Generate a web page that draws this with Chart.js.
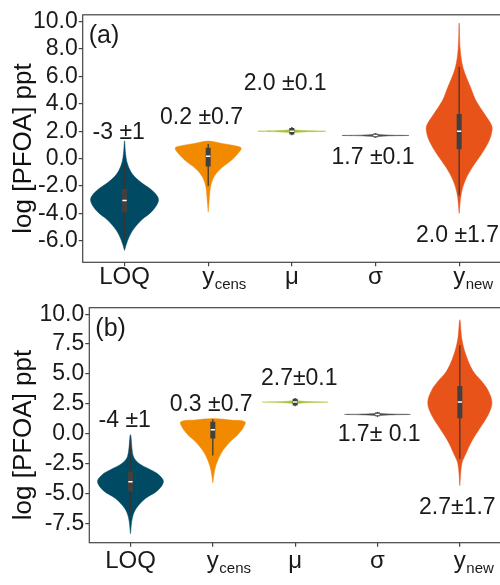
<!DOCTYPE html>
<html>
<head>
<meta charset="utf-8">
<script src="https://cdn.jsdelivr.net/npm/chart.js@4.4.1/dist/chart.umd.min.js"></script>
<style>
  html, body { margin: 0; padding: 0; overflow: hidden; background: #fff; }
  #wrapA { position: absolute; left: 0; top: 0; }
  #wrapB { position: absolute; left: 0; top: 290px; }
</style>
</head>
<body>
<div id="wrapA"><canvas id="chartA" width="501" height="290"></canvas></div>
<div id="wrapB"><canvas id="chartB" width="501" height="295"></canvas></div>
<script>
const FONT = '"Liberation Sans", Arial, sans-serif';

// categories (main text + subscript)
const catMain = ['LOQ', 'y', 'μ', 'σ', 'y'];
const catSub = ['', 'cens', '', '', 'new'];
const catColors = ['#004b63', '#f28a00', '#a6c43a', '#4d4d4d', '#e8531a'];

// y-axis ticks
const ticksA = [-6, -4, -2, 0, 2, 4, 6, 8, 10];
const ticksB = [-7.5, -5, -2.5, 0, 2.5, 5, 7.5, 10];

// violin outlines: value levels and half widths (category units)
const violinYA = [
  [-6.7, -6.0, -5.25, -4.5, -3.8, -3.0, -2.35, -1.75, -1.15, -0.4, 0.4, 1.3],
  [-3.9, -3.0, -2.0, -1.3, -0.7, -0.2, 0.3, 0.77, 0.95, 1.1, 1.28],
  [1.84, 1.9, 1.95, 2.0, 2.05, 2.1, 2.16],
  [1.57, 1.62, 1.66, 1.69, 1.72, 1.76, 1.81],
  [-4.0, -2.6, -1.6, -0.65, 0.3, 1.3, 2.1, 2.5, 3.2, 4.2, 5.1, 6.6, 8.0, 9.9]
];
const violinWA = [
  [0, 0.036, 0.096, 0.2, 0.335, 0.406, 0.335, 0.2, 0.096, 0.036, 0.012, 0],
  [0, 0.012, 0.03, 0.072, 0.155, 0.263, 0.346, 0.394, 0.31, 0.167, 0],
  [0, 0.036, 0.143, 0.406, 0.143, 0.036, 0],
  [0, 0.036, 0.143, 0.4, 0.143, 0.036, 0],
  [0, 0.024, 0.072, 0.155, 0.263, 0.358, 0.394, 0.382, 0.31, 0.203, 0.143, 0.048, 0.012, 0]
];
const violinYB = [
  [-8.35, -7.0, -6.2, -5.4, -4.75, -4.0, -3.4, -3.0, -2.5, -1.9, -0.07],
  [-4.1, -3.0, -2.2, -1.4, -0.6, -0.07, 0.46, 1.0, 1.15, 1.27],
  [2.47, 2.54, 2.6, 2.65, 2.7, 2.76, 2.83],
  [1.48, 1.54, 1.58, 1.62, 1.66, 1.7, 1.76],
  [-4.34, -2.5, -1.67, -0.6, 0.46, 1.53, 2.6, 3.67, 4.47, 5.27, 6.6, 7.94, 9.54]
];
const violinWB = [
  [0, 0.024, 0.073, 0.182, 0.328, 0.40, 0.34, 0.243, 0.109, 0.036, 0],
  [0, 0.024, 0.061, 0.122, 0.219, 0.304, 0.365, 0.39, 0.22, 0],
  [0, 0.036, 0.146, 0.40, 0.146, 0.036, 0],
  [0, 0.036, 0.146, 0.40, 0.146, 0.036, 0],
  [0, 0.024, 0.073, 0.146, 0.243, 0.34, 0.39, 0.34, 0.255, 0.158, 0.073, 0.024, 0]
];

// inner box plots
const boxLoA = [-5.84, -2.0, 1.7, 1.52, -2.7];
const boxQ1A = [-3.91, -0.58, 1.76, 1.56, 0.68];
const boxMedA = [-3.06, 0.17, 2.0, 1.69, 2.0];
const boxQ3A = [-2.22, 0.8, 2.24, 1.82, 3.26];
const boxHiA = [-0.41, 1.06, 2.3, 1.86, 6.7];

const boxLoB = [-6.75, -1.81, 2.3, 1.42, -2.08];
const boxQ1B = [-4.82, -0.39, 2.37, 1.46, 1.31];
const boxMedB = [-4.0, 0.33, 2.65, 1.62, 2.65];
const boxQ3B = [-3.14, 1.0, 2.93, 1.78, 3.99];
const boxHiB = [-0.6, 1.21, 3.0, 1.82, 7.4];

// mean ± sd labels
const noteTextA = ['-3 ±1', '0.2 ±0.7', '2.0 ±0.1', '1.7 ±0.1', '2.0 ±1.7'];
const noteXA = [0.93, 1.92, 2.92, 3.97, 4.98];
const noteYA = [1.86, 2.97, 5.5, 0.07, -5.6];
const noteTextB = ['-4 ±1', '0.3 ±0.7', '2.7±0.1', '1.7± 0.1', '2.7±1.7'];
const noteXB = [0.93, 1.98, 3.05, 4.02, 4.97];
const noteYB = [1.13, 2.47, 4.6, -0.07, -6.2];

function violinPoints(c, ys, ws) {
  let pts = [];
  for (let i = 0; i < ys.length; i++) pts.push({x: c + ws[i], y: ys[i]});
  for (let i = ys.length - 2; i >= 0; i--) pts.push({x: c - ws[i], y: ys[i]});
  return pts;
}

function buildDatasets(vy, vw, lo, q1, med, q3, hi) {
  let datasets = [];
  for (let i = 0; i < catMain.length; i++) {
    const c = i + 1;
    datasets.push({
      data: violinPoints(c, vy[i], vw[i]),
      backgroundColor: catColors[i],
      borderColor: catColors[i],
      borderWidth: 0.5,
      fill: 'shape',
      tension: 0.35,
      pointRadius: 0,
      order: 4
    });
    datasets.push({
      data: [{x: c, y: lo[i]}, {x: c, y: hi[i]}],
      borderColor: '#333333', borderWidth: 1.2, pointRadius: 0, fill: false, order: 3
    });
    datasets.push({
      data: [{x: c, y: q1[i]}, {x: c, y: q3[i]}],
      borderColor: '#404040', borderWidth: 5, borderCapStyle: 'butt', pointRadius: 0, fill: false, order: 2
    });
    datasets.push({
      data: [{x: c - 0.026, y: med[i]}, {x: c + 0.026, y: med[i]}],
      borderColor: '#ffffff', borderWidth: 1.5, pointRadius: 0, fill: false, order: 1
    });
  }
  return datasets;
}

// border, panel tag, value labels, category labels and the axis title
function makeDecor(o) {
  return {
    id: 'decor',
    afterDatasetsDraw(chart) {
      const ctx = chart.ctx, a = chart.chartArea;
      const xs = chart.scales.x, ys = chart.scales.y;
      ctx.save();
      ctx.strokeStyle = '#444';
      ctx.lineWidth = 1.2;
      ctx.strokeRect(a.left, a.top, a.right - a.left, a.bottom - a.top);

      ctx.fillStyle = '#1a1a1a';
      ctx.font = '23px ' + FONT;
      ctx.textAlign = 'center';
      ctx.textBaseline = 'middle';
      for (let i = 0; i < o.notes.length; i++) {
        ctx.fillText(o.notes[i], xs.getPixelForValue(o.nx[i]), ys.getPixelForValue(o.ny[i]));
      }

      ctx.textAlign = 'left';
      ctx.font = '25px ' + FONT;
      ctx.fillText(o.tag, a.left + 6, a.top + 21);

      ctx.textBaseline = 'alphabetic';
      const base = a.bottom + o.labelOffset;
      for (let i = 0; i < catMain.length; i++) {
        const x = xs.getPixelForValue(i + 1);
        ctx.font = '24px ' + FONT;
        const w1 = ctx.measureText(catMain[i]).width;
        ctx.fillText(catMain[i], x - w1 / 2, base);
        if (catSub[i]) {
          ctx.font = '15px ' + FONT;
          ctx.fillText(catSub[i], x + w1 / 2 + 0.5, base + 5);
        }
      }

      // y axis title
      ctx.translate(o.titleX, o.titleY);
      ctx.rotate(-Math.PI / 2);
      ctx.textAlign = 'center';
      ctx.font = '26px ' + FONT;
      ctx.fillStyle = '#111';
      ctx.fillText('log [PFOA] ppt', 0, 0);
      ctx.restore();
    }
  };
}

function makeChart(id, o) {
  return new Chart(document.getElementById(id).getContext('2d'), {
    type: 'line',
    data: { datasets: buildDatasets(o.vy, o.vw, o.lo, o.q1, o.med, o.q3, o.hi) },
    options: {
      responsive: false,
      animation: false,
      layout: { padding: { top: o.padTop, left: 0, right: 0, bottom: 0 } },
      plugins: { legend: { display: false }, tooltip: { enabled: false } },
      scales: {
        x: {
          type: 'linear', min: 0.5, max: 5.5,
          afterBuildTicks: s => { s.ticks = [1, 2, 3, 4, 5].map(v => ({value: v})); },
          afterFit: s => { s.height = o.bottomH; },
          ticks: { display: false },
          grid: { drawOnChartArea: false, tickLength: 4, color: '#444', lineWidth: 1.2 },
          border: { display: false }
        },
        y: {
          type: 'linear', min: o.yMin, max: o.yMax,
          afterBuildTicks: s => { s.ticks = o.ticks.map(v => ({value: v})); },
          afterFit: s => { s.width = o.leftW; },
          ticks: {
            callback: v => v.toFixed(1),
            font: { size: 23, family: FONT }, color: '#1a1a1a', padding: 1
          },
          grid: { drawOnChartArea: false, tickLength: 4, color: '#444', lineWidth: 1.2 },
          border: { display: false }
        }
      }
    },
    plugins: [makeDecor(o)]
  });
}

makeChart('chartA', {
  vy: violinYA, vw: violinWA,
  lo: boxLoA, q1: boxQ1A, med: boxMedA, q3: boxQ3A, hi: boxHiA,
  ticks: ticksA, yMin: -7.57, yMax: 10.5,
  padTop: 12.7, bottomH: 27.7, leftW: 82.7, labelOffset: 21.5,
  titleX: 31, titleY: 148.5,
  tag: '(a)', notes: noteTextA, nx: noteXA, ny: noteYA
});

makeChart('chartB', {
  vy: violinYB, vw: violinWB,
  lo: boxLoB, q1: boxQ1B, med: boxMedB, q3: boxQ3B, hi: boxHiB,
  ticks: ticksB, yMin: -9.1, yMax: 10.54,
  padTop: 17.7, bottomH: 42.3, leftW: 89.3, labelOffset: 25,
  titleX: 31, titleY: 145,
  tag: '(b)', notes: noteTextB, nx: noteXB, ny: noteYB
});
</script>
</body>
</html>
